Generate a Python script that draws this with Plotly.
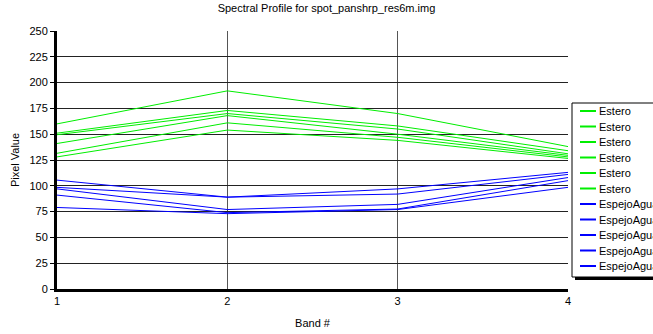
import plotly.graph_objects as go

bands = [1, 2, 3, 4]
estero = [
    [160, 192, 170, 138],
    [151, 173, 158, 134],
    [149.5, 170, 155, 131],
    [141, 168, 150, 129.5],
    [131.5, 161, 147, 128],
    [128, 154, 144, 126.5],
]
espejo = [
    [105.5, 89, 97, 113],
    [98.5, 89, 92, 111],
    [97, 77, 82, 108],
    [91, 74, 77.5, 105],
    [79, 73, 77, 98.5],
]
names = ["Estero"] * 6 + ["EspejoAgua"] * 5
colors = ["#00ee00"] * 6 + ["#0000ff"] * 5
yticks = [0, 25, 50, 75, 100, 125, 150, 175, 200, 225, 250]

W, H = 653, 334
L, R, T, B = 57, 85, 31, 45
pw, ph = W - L - R, H - T - B
FONT = "Liberation Sans, Arial, sans-serif"

def px(x):
    return (x - L) / pw

def py(y):
    return (H - B - y) / ph

fig = go.Figure()
for series, col in zip(estero + espejo, colors):
    fig.add_trace(go.Scatter(x=bands, y=series, mode="lines",
                             line=dict(color=col, width=1), showlegend=False,
                             hoverinfo="skip"))

shapes = []
# legend shadow and box
shapes.append(dict(type="rect", xref="paper", yref="paper",
                   x0=px(575), x1=px(700), y0=py(280), y1=py(106),
                   fillcolor="black", line=dict(width=0)))
shapes.append(dict(type="rect", xref="paper", yref="paper",
                   x0=px(572), x1=px(697), y0=py(277), y1=py(103),
                   fillcolor="white", line=dict(color="black", width=1)))
annotations = []
for i, (nm, col) in enumerate(zip(names, colors)):
    yy = 111 + i * 15.5
    shapes.append(dict(type="line", xref="paper", yref="paper",
                       x0=px(580), x1=px(596), y0=py(yy), y1=py(yy),
                       line=dict(color=col, width=2)))
    annotations.append(dict(xref="paper", yref="paper", x=px(597), y=py(yy),
                            text=nm, showarrow=False, xanchor="left",
                            yanchor="middle", font=dict(size=11, color="black", family=FONT)))

fig.update_layout(
    width=W, height=H,
    margin=dict(l=L, r=R, t=T, b=B, autoexpand=False),
    paper_bgcolor="white", plot_bgcolor="white",
    title=dict(text="Spectral Profile for spot_panshrp_res6m.img",
               x=0.5, xanchor="center", y=1 - 8 / H, yanchor="middle",
               font=dict(size=11, color="black", family=FONT)),
    font=dict(family=FONT, size=11, color="black"),
    shapes=shapes, annotations=annotations,
    xaxis=dict(range=[1, 4], tickvals=bands, ticktext=[str(b) for b in bands],
               showgrid=True, gridcolor="#555555", gridwidth=1,
               showline=True, linecolor="black", linewidth=3,
               ticks="", zeroline=False,
               title=dict(text="Band #", standoff=14, font=dict(size=11)),
               tickfont=dict(size=11)),
    yaxis=dict(range=[0, 250], tickvals=yticks,
               showgrid=True, gridcolor="#222222", gridwidth=1,
               showline=True, linecolor="black", linewidth=3,
               ticks="outside", ticklen=4, tickcolor="black",
               zeroline=False,
               title=dict(text="Pixel Value", standoff=8, font=dict(size=11)),
               tickfont=dict(size=11)),
)
fig.write_html("out.html")
